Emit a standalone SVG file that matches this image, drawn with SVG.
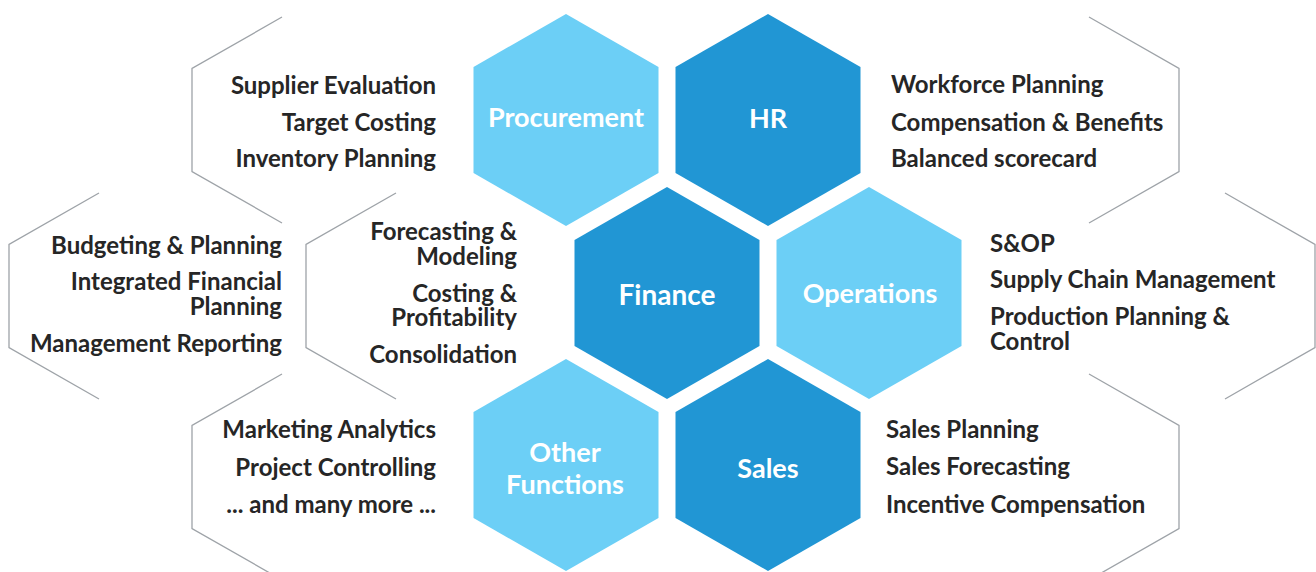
<svg xmlns="http://www.w3.org/2000/svg" width="1316" height="572" viewBox="0 0 1316 572">
<style>
.light{fill:#6ccff6}
.dark{fill:#2196d4}
.br{fill:none;stroke:#9ea3a8;stroke-width:1.3}
.lbl{font-family:Lato,"Liberation Sans",sans-serif;font-weight:700;font-size:27px;fill:#ffffff;text-anchor:middle}
.t{font-family:Lato,"Liberation Sans",sans-serif;font-weight:700;font-size:24px;fill:#262626}
.r{text-anchor:end}
.l{text-anchor:start}
</style>
<defs>
<polygon id="hex" points="0,-106 92.5,-53 92.5,53 0,106 -92.5,53 -92.5,-53"/>
<polyline id="bl" points="0,-103 -90,-51.5 -90,51.5 0,103"/>
<polyline id="brr" points="0,-103 90,-51.5 90,51.5 0,103"/>
</defs>
<g id="connectors">
<use href="#bl" class="br" x="282" y="120"/>
<use href="#bl" class="br" x="99" y="296"/>
<use href="#bl" class="br" x="396" y="296"/>
<use href="#bl" class="br" x="282" y="477"/>
<use href="#brr" class="br" x="1089" y="120"/>
<use href="#brr" class="br" x="1225" y="296"/>
<use href="#brr" class="br" x="1089" y="477"/>
</g>
<g id="procurement">
<use href="#hex" class="light" x="566" y="120"/>
<text class="lbl" x="566" y="127">Procurement</text>
</g>
<g id="hr">
<use href="#hex" class="dark" x="768" y="120"/>
<text class="lbl" x="768" y="128">HR</text>
</g>
<g id="finance">
<use href="#hex" class="dark" x="667" y="293"/>
<text class="lbl" x="667" y="305" style="font-size:28px">Finance</text>
</g>
<g id="operations">
<use href="#hex" class="light" x="869" y="293"/>
<text class="lbl" x="870" y="303">Operations</text>
</g>
<g id="other-functions">
<use href="#hex" class="light" x="566" y="465"/>
<text class="lbl" x="565" y="462">Other<tspan x="565" y="494">Functions</tspan></text>
</g>
<g id="sales">
<use href="#hex" class="dark" x="768" y="465"/>
<text class="lbl" x="768" y="478">Sales</text>
</g>
<g id="procurement-items">
<text class="t r" x="436" y="94">Supplier Evaluation</text>
<text class="t r" x="436" y="131">Target Costing</text>
<text class="t r" x="436" y="167">Inventory Planning</text>
</g>
<g id="hr-items">
<text class="t l" x="891" y="93">Workforce Planning</text>
<text class="t l" x="891" y="131">Compensation &amp; Benefits</text>
<text class="t l" x="891" y="167">Balanced scorecard</text>
</g>
<g id="planning-items">
<text class="t r" x="282" y="254">Budgeting &amp; Planning</text>
<text class="t r" x="282" y="290">Integrated Financial<tspan x="282" y="315">Planning</tspan></text>
<text class="t r" x="282" y="352">Management Reporting</text>
</g>
<g id="finance-items">
<text class="t r" x="517" y="240">Forecasting &amp;<tspan x="517" y="265">Modeling</tspan></text>
<text class="t r" x="517" y="302">Costing &amp;<tspan x="517" y="326">Profitability</tspan></text>
<text class="t r" x="517" y="363">Consolidation</text>
</g>
<g id="operations-items">
<text class="t l" x="990" y="252">S&amp;OP</text>
<text class="t l" x="990" y="288">Supply Chain Management</text>
<text class="t l" x="990" y="325">Production Planning &amp;<tspan x="990" y="350">Control</tspan></text>
</g>
<g id="other-items">
<text class="t r" x="436" y="438">Marketing Analytics</text>
<text class="t r" x="436" y="476">Project Controlling</text>
<text class="t r" x="436" y="513">... and many more ...</text>
</g>
<g id="sales-items">
<text class="t l" x="886" y="438">Sales Planning</text>
<text class="t l" x="886" y="475">Sales Forecasting</text>
<text class="t l" x="886" y="513">Incentive Compensation</text>
</g>
</svg>
